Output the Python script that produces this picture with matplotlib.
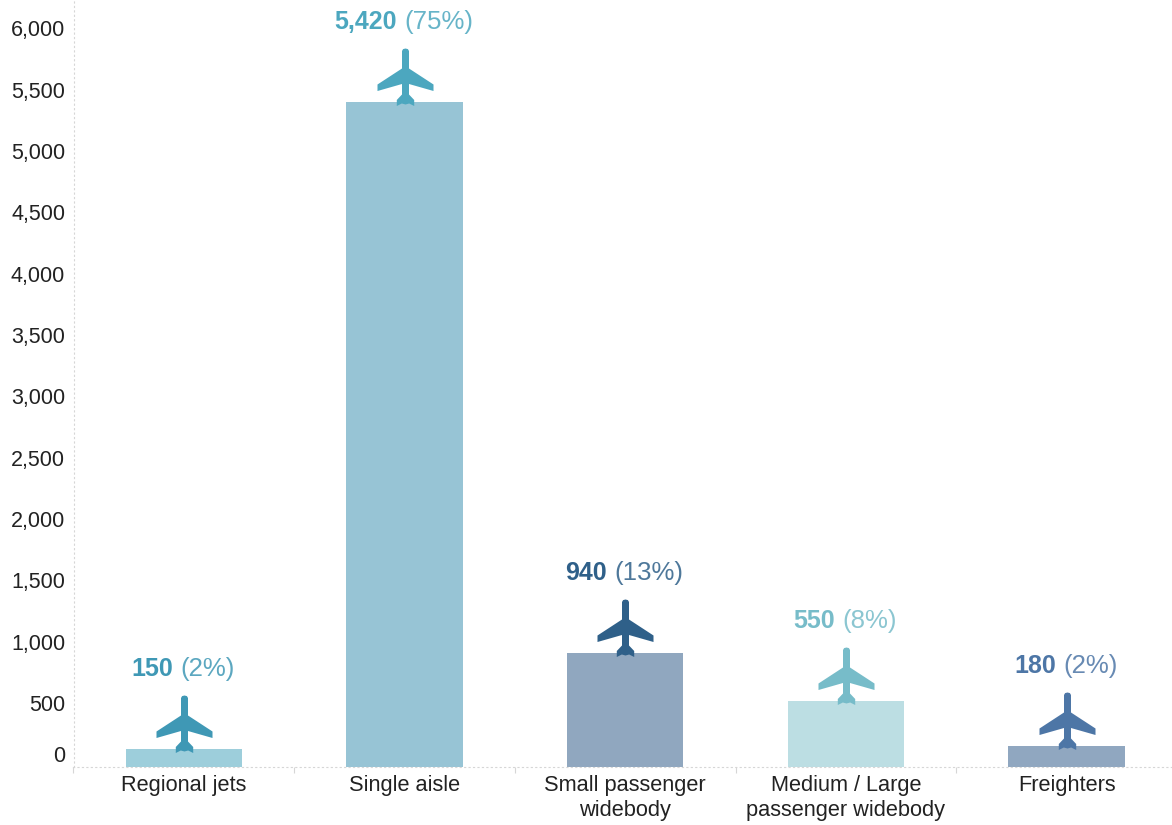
"""Aircraft deliveries by category, bars with a plane icon and value label on top."""

import matplotlib

matplotlib.use("Agg")

import matplotlib.pyplot as plt
from matplotlib.offsetbox import AnnotationBbox, HPacker, TextArea
from matplotlib.path import Path
from matplotlib.transforms import ScaledTranslation

categories = [
    "Regional jets",
    "Single aisle",
    "Small passenger\nwidebody",
    "Medium / Large\npassenger widebody",
    "Freighters",
]
bar_heights = [147, 5420, 930, 540, 172]
value_labels = ["150", "5,420", "940", "550", "180"]
share_labels = ["(2%)", "(75%)", "(13%)", "(8%)", "(2%)"]
y_ticks = list(range(0, 6001, 500))

bar_colors = ["#9dcedb", "#97c4d5", "#90a7bf", "#bcdee3", "#90a7c0"]
plane_colors = ["#3f98b5", "#4ca7bf", "#2f6089", "#77bcc9", "#4d76a6"]
FONT = "Liberation Sans"
TEXT_COLOR = "#222222"
AXIS_COLOR = "#d6d6d6"

# Plane icon outline in pixels, y=0 sits on the bar top
half_outline = [
    (0, 54), (2.4, 53.4), (3.5, 51.5), (3.5, 34), (28, 18), (28, 11.5),
    (3.5, 18.5), (3.5, 8), (8.7, 2.5), (8.7, -3.5), (3.7, -1), (0, -2),
]
left_outline = [(-x, y) for x, y in reversed(half_outline[:-1])]
outline = half_outline + left_outline[:-1] + [(0, 54)]
plane = Path(outline, closed=True)

dpi = 100
fig = plt.figure(figsize=(11.72, 8.25), dpi=dpi)
# the category bands run slightly past the right edge of the picture
ax = fig.add_axes([73.5 / 1172, (825 - 767) / 825, 1103.5 / 1172, 767 / 825])

x = list(range(len(categories)))
ax.bar(x, bar_heights, width=0.527, color=bar_colors, zorder=2)

# marker paths get rescaled so the largest coordinate is half the marker size
marker_size = (2 * 54 * 72 / dpi) ** 2
for i in x:
    ax.scatter(
        i, bar_heights[i], marker=plane, s=marker_size,
        color=plane_colors[i], linewidths=0, zorder=3, clip_on=False,
    )
    value = TextArea(
        value_labels[i],
        textprops=dict(family=FONT, size=18, weight="bold", color=plane_colors[i]),
    )
    share = TextArea(
        share_labels[i],
        textprops=dict(family=FONT, size=18.6, color=plane_colors[i], alpha=0.85),
    )
    box = HPacker(children=[value, share], pad=0, sep=5, align="baseline")
    ax.add_artist(
        AnnotationBbox(
            box, (i - 0.004, bar_heights[i]), xybox=(0, 57.5), xycoords="data",
            boxcoords="offset points", frameon=False, pad=0, zorder=4,
        )
    )

ax.set_xlim(-0.5, 4.5)
ax.set_ylim(0, 767 / (665 / 5420))

ax.set_xticks(x)
ax.set_xticklabels(categories, family=FONT, fontsize=15.7, color=TEXT_COLOR, linespacing=1.25)
ax.tick_params(axis="x", which="major", length=0, pad=6)

ax.set_xticks([i - 0.5 for i in range(len(categories) + 1)], minor=True)
ax.tick_params(axis="x", which="minor", length=4, width=0.8, color=AXIS_COLOR)

ax.set_yticks(y_ticks)
ax.set_yticklabels([f"{v:,}" for v in y_ticks], family=FONT, fontsize=15.5, color=TEXT_COLOR)
ax.tick_params(axis="y", length=0, pad=6)

# zero label is pushed up off the axis, the others sit a touch above their value
ylabels = ax.get_yticklabels()
ylabels[0].set_verticalalignment("bottom")
nudge = ScaledTranslation(0, 2.5 / dpi, fig.dpi_scale_trans)
for label in ylabels[1:]:
    label.set_transform(label.get_transform() + nudge)

for side in ["top", "right"]:
    ax.spines[side].set_visible(False)
for side in ["left", "bottom"]:
    ax.spines[side].set_color(AXIS_COLOR)
    ax.spines[side].set_linewidth(0.8)
    ax.spines[side].set_linestyle((0, (1, 3)))

fig.savefig("out.png", dpi=dpi)
